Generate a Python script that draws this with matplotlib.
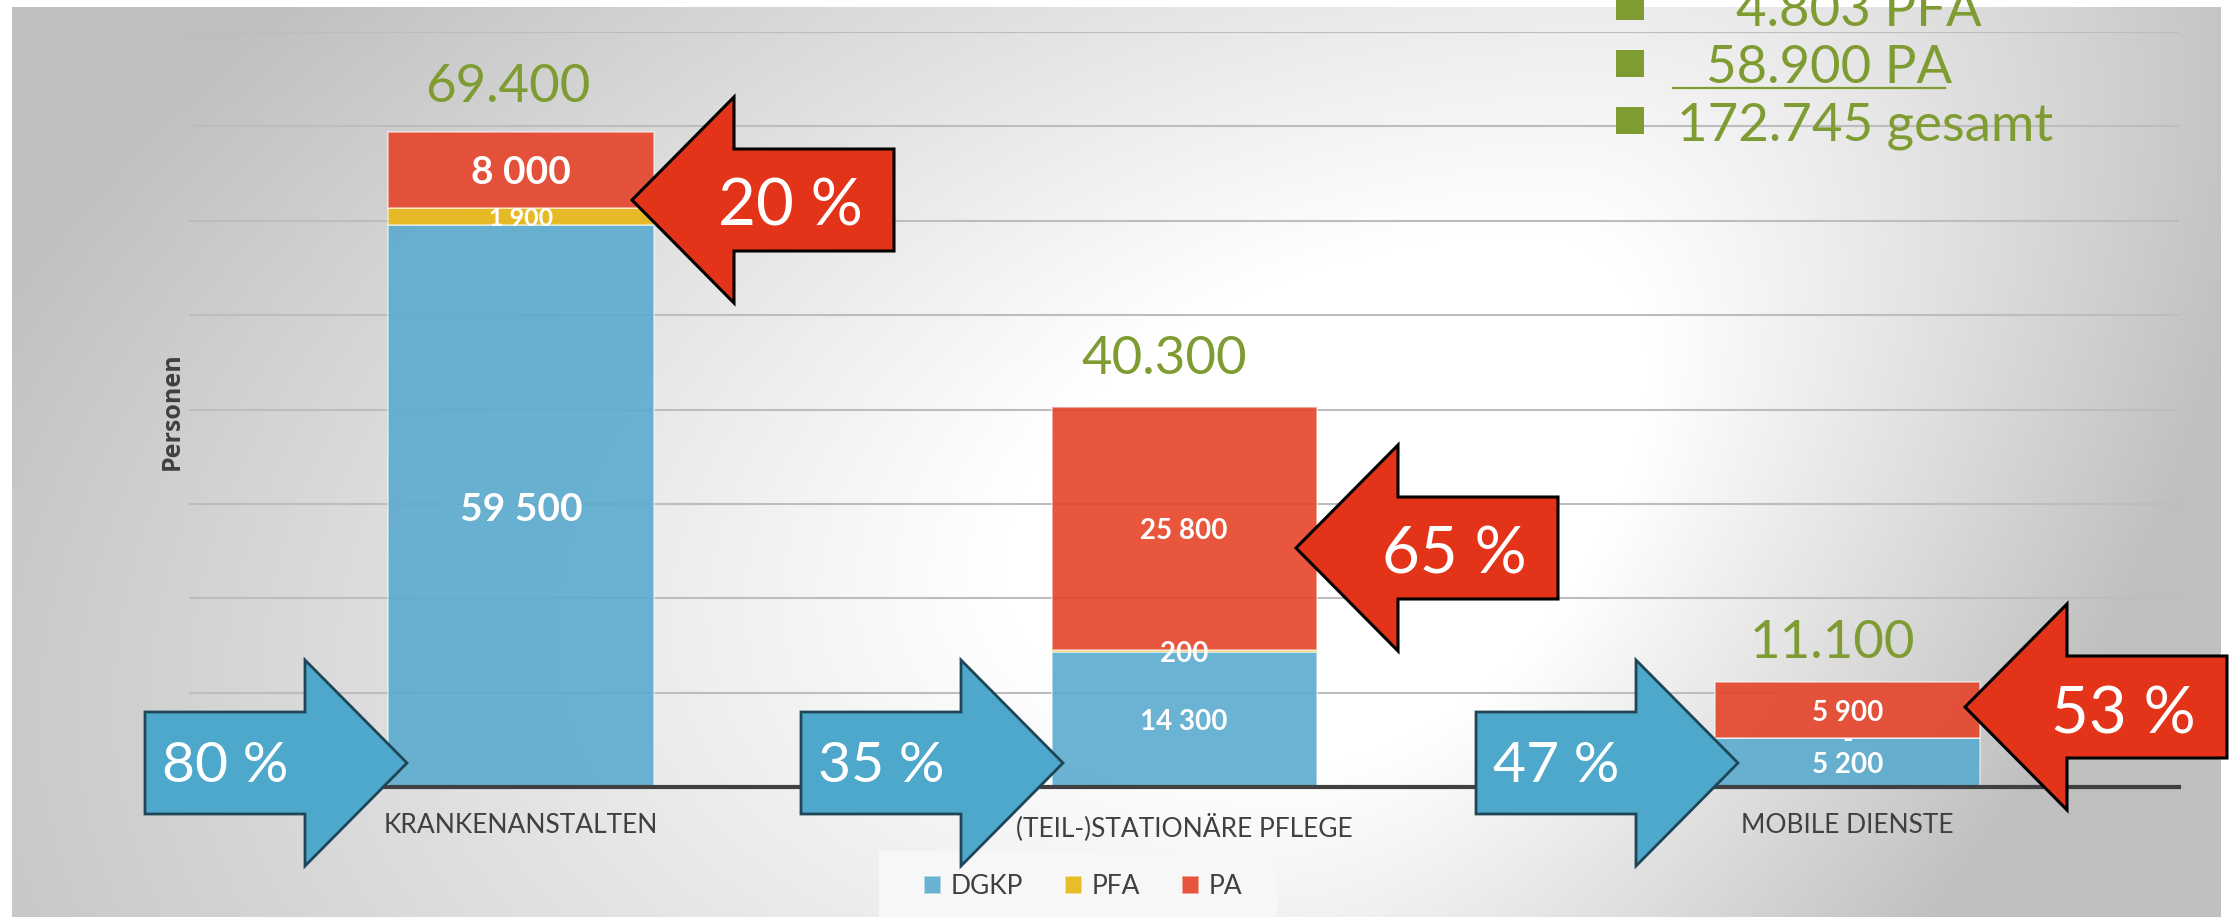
import numpy as np
import matplotlib
matplotlib.use("Agg")
import matplotlib.pyplot as plt
from matplotlib.patches import Polygon, Rectangle
from matplotlib.colors import to_rgba

# ---------------- data ----------------
categories = ["KRANKENANSTALTEN", "(TEIL-)STATIONÄRE PFLEGE", "MOBILE DIENSTE"]
series_names = ["DGKP", "PFA", "PA"]
dgkp = [59500, 14300, 5200]
pfa = [1900, 200, 0]
pa = [8000, 25800, 5900]
totals = [69400, 40300, 11100]
total_labels = ["69.400", "40.300", "11.100"]
share_dgkp = ["80 %", "35 %", "47 %"]
share_pa = ["20 %", "65 %", "53 %"]
summary_lines = ["4.803 PFA", "58.900 PA", "172.745 gesamt"]
grid_ticks = [10000, 20000, 30000, 40000, 50000, 60000, 70000, 80000]

# ---------------- style ----------------
W, H = 2233, 917
C_DGKP, C_PFA, C_PA = "#5BABCE", "#E8B714", "#E64329"
GREEN = "#7F9C32"
TXT = "#404040"
plt.rcParams["font.family"] = ["Lato", "DejaVu Sans"]

fig = plt.figure(figsize=(W / 100, H / 100), dpi=100)

# background panel with radial-ish gradient
bg = fig.add_axes([0, 0, 1, 1])
bg.set_zorder(0)
px0, px1, py0, py1 = 12, 2221, 7, 917
gx = np.linspace(px0, px1, 700)
gy = np.linspace(py0, py1, 300)
X, Y = np.meshgrid(gx, gy)
s = W / 1568
xs, ys = X / s, Y / s
cx = 1000 - 0.4 * (ys - 350)
dx = xs - cx
sx = np.where(dx < 0, 1150, 560)
t = np.sqrt((dx / sx) ** 2 + ((ys - 350) / 750) ** 2)
g = 1 - 0.25 * np.clip((t - 0.25) / 0.7, 0, 1)
bg.imshow(np.dstack([g, g, g]), extent=(px0, px1, py1, py0), aspect="auto",
          interpolation="bilinear")
bg.add_patch(Rectangle((879, 851), 398, 70, facecolor="#f7f7f7", edgecolor="none"))
bg.set_xlim(0, W)
bg.set_ylim(H, 0)
bg.axis("off")

# main axes
L = 189.4 / W
B = (H - 787) / H
ax = fig.add_axes([L, B, (2179 - 189.4) / W, (787 - 32) / H])
ax.set_zorder(1)
ax.patch.set_alpha(0)
x = np.arange(len(categories))
bw = 0.4
edge = (1, 1, 1, 0.55)
bottom2 = np.array(dgkp)
bottom3 = np.array(dgkp) + np.array(pfa)
b1 = ax.bar(x, dgkp, bw, color=to_rgba(C_DGKP, 0.9), edgecolor=edge, lw=1.2, zorder=2)
b2 = ax.bar(x, pfa, bw, bottom=bottom2, color=to_rgba(C_PFA, 0.9), edgecolor=edge, lw=1.2, zorder=2)
b3 = ax.bar(x, pa, bw, bottom=bottom3, color=to_rgba(C_PA, 0.9), edgecolor=edge, lw=1.2, zorder=2)

def fmt(v):
    return "-" if v == 0 else f"{v:,}".replace(",", " ")

seg_sizes = [[28, 20, 20], [18, 20, 20], [28, 20, 20]]
for si, (vals, bots) in enumerate([(dgkp, np.zeros(3)), (pfa, bottom2), (pa, bottom3)]):
    for i in range(3):
        ax.text(x[i], bots[i] + vals[i] / 2, fmt(vals[i]), ha="center", va="center_baseline",
                color="white", fontsize=seg_sizes[si][i], fontweight="bold", zorder=4)

tot_dx = [-0.02, -0.03, -0.023]
tot_dy = [3200, 3450, 2550]
for i in range(3):
    ax.text(x[i] + tot_dx[i], totals[i] + tot_dy[i], total_labels[i], ha="center",
            va="baseline", color=GREEN, fontsize=38, zorder=4)

ax.set_xlim(-0.5, 2.5)
ax.set_ylim(0, 80000)
ax.set_yticks(grid_ticks)
ax.yaxis.grid(True, color="#bdbdbd", lw=1.5)
ax.set_axisbelow(True)
ax.tick_params(axis="y", length=0, labelleft=False)
ax.set_xticks(x, categories)
ax.tick_params(axis="x", length=0, pad=19, labelsize=19, labelcolor=TXT)
for sp in ["left", "right", "top"]:
    ax.spines[sp].set_visible(False)
ax.spines["bottom"].set_color("#404040")
ax.spines["bottom"].set_linewidth(3)
ax.set_ylabel("Personen", fontsize=18, fontweight="bold", color=TXT,
              family=["Open Sans", "DejaVu Sans"])
ax.yaxis.set_label_coords(-0.0022, 0.498)

fig.legend([b1, b2, b3], series_names, loc="center left",
           bbox_to_anchor=(924 / W, 1 - 886.5 / H), ncol=3, frameon=False,
           fontsize=19, handlelength=0.65, handleheight=0.65, handletextpad=0.35,
           columnspacing=1.6, borderpad=0, borderaxespad=0, labelcolor=TXT)

# overlay for arrows and text box
ov = fig.add_axes([0, 0, 1, 1])
ov.set_zorder(2)
ov.patch.set_alpha(0)
ov.set_xlim(0, W)
ov.set_ylim(H, 0)
ov.axis("off")

def arrow_pts(tx, ty, direction, length=262, head=102, hh=103, bh=51):
    d = direction  # +1 pointing left (body to the right), -1 pointing right
    return [(tx, ty), (tx + d * head, ty - hh), (tx + d * head, ty - bh),
            (tx + d * length, ty - bh), (tx + d * length, ty + bh),
            (tx + d * head, ty + bh), (tx + d * head, ty + hh)]

red_tips = [(632, 200), (1296, 548), (1965, 707)]
blue_tips = [(407, 763), (1063, 763), (1738, 763)]
for (tx, ty), lab in zip(red_tips, share_pa):
    ov.add_patch(Polygon(arrow_pts(tx, ty, 1), closed=True, facecolor="#E3341A",
                         edgecolor="black", lw=2.2, joinstyle="miter"))
    ov.text(tx + 158, ty + 26, lab, ha="center", va="baseline", color="white", fontsize=47)
for (tx, ty), lab in zip(blue_tips, share_dgkp):
    ov.add_patch(Polygon(arrow_pts(tx, ty, -1), closed=True, facecolor="#4DA8CB",
                         edgecolor="#1E4656", lw=2.0, joinstyle="miter"))
    ov.text(tx - 182, ty + 19.5, lab, ha="center", va="baseline", color="white", fontsize=41)

# summary text box (top right)
sum_x = [1736, 1706, 1677]
sum_base = [26, 83, 140]
for i, line in enumerate(summary_lines):
    ov.add_patch(Rectangle((1616, sum_base[i] - 33), 28, 27, facecolor=GREEN, edgecolor="none"))
    ov.text(sum_x[i], sum_base[i], line, ha="left", va="baseline", color=GREEN, fontsize=38)
ov.plot([1673, 1945], [88, 88], color=GREEN, lw=1.6)

fig.savefig("out.png", dpi=100)
